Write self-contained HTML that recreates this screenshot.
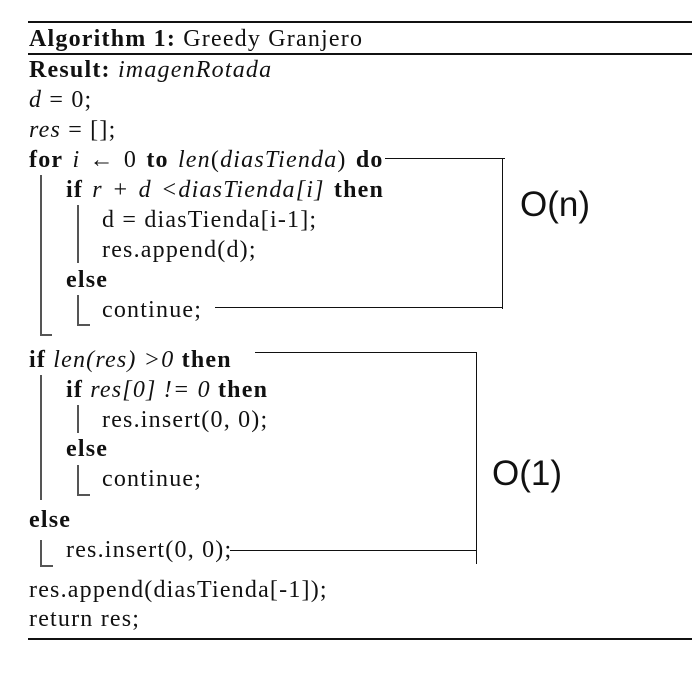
<!DOCTYPE html>
<html><head><meta charset="utf-8">
<style>
body{margin:0;width:692px;height:687px;background:#fff;position:relative;overflow:hidden;font-family:"Liberation Serif",serif;color:#111}
.l{position:absolute;height:30px;line-height:30px;font-size:24px;letter-spacing:1.2px;white-space:nowrap}
.m{word-spacing:2px}
b{font-weight:bold}
i{font-style:italic}
.r{position:absolute;background:#111}
.g{position:absolute;background:#555}
.big{position:absolute;font-family:"Liberation Sans",sans-serif;font-size:35px;color:#111}
</style></head><body>
<div class="r" style="left:28px;top:21px;width:664px;height:2px"></div>
<div class="r" style="left:28px;top:53px;width:664px;height:1.5px"></div>
<div class="r" style="left:28px;top:638px;width:664px;height:2px"></div>

<div class="l" style="left:29px;top:24px"><b>Algorithm 1:</b> Greedy Granjero</div>
<div class="l" style="left:29px;top:55px"><b>Result:</b> <i>imagenRotada</i></div>
<div class="l" style="left:29px;top:85px"><i>d</i> = 0;</div>
<div class="l" style="left:29px;top:115px"><i>res</i> = [];</div>
<div class="l m" style="left:29px;top:145px"><b>for</b> <i>i</i> ← 0 <b>to</b> <i>len</i>(<i>diasTienda</i>) <b>do</b></div>
<div class="l m" style="left:66px;top:175px"><b>if</b> <i>r + d &lt;diasTienda[i]</i> <b>then</b></div>
<div class="l" style="left:102px;top:205px">d = diasTienda[i-1];</div>
<div class="l" style="left:102px;top:235px">res.append(d);</div>
<div class="l" style="left:66px;top:265px"><b>else</b></div>
<div class="l" style="left:102px;top:295px">continue;</div>

<div class="l" style="left:29px;top:345px"><b>if</b> <i>len(res) &gt;0</i> <b>then</b></div>
<div class="l" style="left:66px;top:375px"><b>if</b> <i>res[0] != 0</i> <b>then</b></div>
<div class="l" style="left:102px;top:405px">res.insert(0, 0);</div>
<div class="l" style="left:66px;top:434px"><b>else</b></div>
<div class="l" style="left:102px;top:464px">continue;</div>
<div class="l" style="left:29px;top:505px"><b>else</b></div>
<div class="l" style="left:66px;top:535px">res.insert(0, 0);</div>
<div class="l" style="left:29px;top:575px">res.append(diasTienda[-1]);</div>
<div class="l" style="left:29px;top:604px">return res;</div>

<div class="g" style="left:40px;top:175px;width:1.5px;height:161px"></div>
<div class="g" style="left:40px;top:334px;width:12px;height:1.5px"></div>
<div class="g" style="left:77px;top:205px;width:1.5px;height:58px"></div>
<div class="g" style="left:77px;top:295px;width:1.5px;height:30px"></div>
<div class="g" style="left:77px;top:324px;width:13px;height:1.5px"></div>
<div class="g" style="left:40px;top:375px;width:1.5px;height:125px"></div>
<div class="g" style="left:77px;top:405px;width:1.5px;height:28px"></div>
<div class="g" style="left:77px;top:465px;width:1.5px;height:30px"></div>
<div class="g" style="left:77px;top:494px;width:13px;height:1.5px"></div>
<div class="g" style="left:40px;top:540px;width:1.5px;height:26px"></div>
<div class="g" style="left:40px;top:565px;width:13px;height:1.5px"></div>

<div class="r" style="left:385px;top:158px;width:120px;height:1.3px"></div>
<div class="r" style="left:502px;top:158px;width:1.3px;height:151px"></div>
<div class="r" style="left:215px;top:307px;width:288px;height:1.3px"></div>
<div class="big" style="left:520px;top:185px">O(n)</div>

<div class="r" style="left:255px;top:352px;width:222px;height:1.3px"></div>
<div class="r" style="left:476px;top:352px;width:1.3px;height:212px"></div>
<div class="r" style="left:230px;top:550px;width:247px;height:1.3px"></div>
<div class="big" style="left:492px;top:454px">O(1)</div>
</body></html>
